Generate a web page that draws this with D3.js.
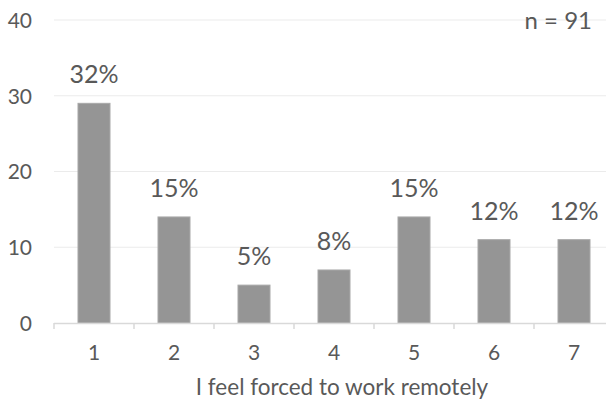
<!DOCTYPE html>
<html>
<head>
<meta charset="utf-8">
<script src="https://cdn.jsdelivr.net/npm/d3@7"></script>
<style>
  html, body { margin: 0; padding: 0; background: #fff; }
  svg { display: block; }
  text { font-family: Lato, "Open Sans", sans-serif; fill: #595959; }
</style>
</head>
<body>
<svg id="chart" width="606" height="401"></svg>
<script>
const categories = ["1", "2", "3", "4", "5", "6", "7"];
const counts = [29, 14, 5, 7, 14, 11, 11];
const percentLabels = ["32%", "15%", "5%", "8%", "15%", "12%", "12%"];
const yTicks = [0, 10, 20, 30, 40];
const xTitle = "I feel forced to work remotely";
const nLabel = "n = 91";

(function () {
const svg = d3.select("#chart");
const W = 606, H = 401;
const mLeft = 54, mRight = 614, mTop = 20, mBottom = 323;

const x = d3.scaleBand().domain(categories).range([mLeft, mRight]).paddingInner(0.6).paddingOuter(0.3);
const y = d3.scaleLinear().domain([0, 40]).range([mBottom, mTop]);

// gridlines
svg.append("g").selectAll("line").data(yTicks.filter(d => d > 0)).join("line")
  .attr("x1", mLeft).attr("x2", W)
  .attr("y1", d => y(d)).attr("y2", d => y(d))
  .attr("stroke", "#ebebeb").attr("stroke-width", 1);

// y axis labels
const yAxis = d3.axisLeft(y).tickValues(yTicks).tickSize(0).tickPadding(0);
const yg = svg.append("g").attr("transform", `translate(${mLeft - 22},0)`).call(yAxis);
yg.select(".domain").remove();
yg.selectAll("text").attr("font-size", 21).attr("fill", "#595959")
  .style("font-family", "Lato, 'Open Sans', sans-serif").attr("dy", "0.35em");

// bars
svg.append("g").selectAll("rect").data(counts).join("rect")
  .attr("x", (d, i) => x(categories[i]))
  .attr("y", d => y(d))
  .attr("width", x.bandwidth())
  .attr("height", d => y(0) - y(d))
  .attr("fill", "#959595")
  .attr("stroke", "#a8a8a8").attr("stroke-width", 1);

// x axis
const step = x.step();
const xAxisG = svg.append("g");
xAxisG.append("line").attr("x1", mLeft).attr("x2", W).attr("y1", mBottom + 0.5).attr("y2", mBottom + 0.5)
  .attr("stroke", "#d9d9d9").attr("stroke-width", 1.5);
xAxisG.selectAll("line.tick").data(d3.range(categories.length + 1)).join("line")
  .attr("class", "tick")
  .attr("x1", i => mLeft + i * step).attr("x2", i => mLeft + i * step)
  .attr("y1", mBottom).attr("y2", mBottom + 6)
  .attr("stroke", "#d9d9d9").attr("stroke-width", 1.5);
xAxisG.selectAll("text").data(categories).join("text")
  .attr("x", d => x(d) + x.bandwidth() / 2)
  .attr("y", 360)
  .attr("text-anchor", "middle")
  .attr("font-size", 21)
  .text(d => d);

// value labels
svg.append("g").selectAll("text").data(counts).join("text")
  .attr("x", (d, i) => x(categories[i]) + x.bandwidth() / 2)
  .attr("y", d => y(d) - 20)
  .attr("text-anchor", "middle")
  .attr("font-size", 25)
  .text((d, i) => percentLabels[i]);

// x title
svg.append("text").attr("x", 342).attr("y", 395).attr("text-anchor", "middle")
  .attr("font-size", 22.5).text(xTitle);

// n label
svg.append("text").attr("x", 592).attr("y", 29).attr("text-anchor", "end")
  .attr("font-size", 24).text(nLabel);
})();
</script>
</body>
</html>
